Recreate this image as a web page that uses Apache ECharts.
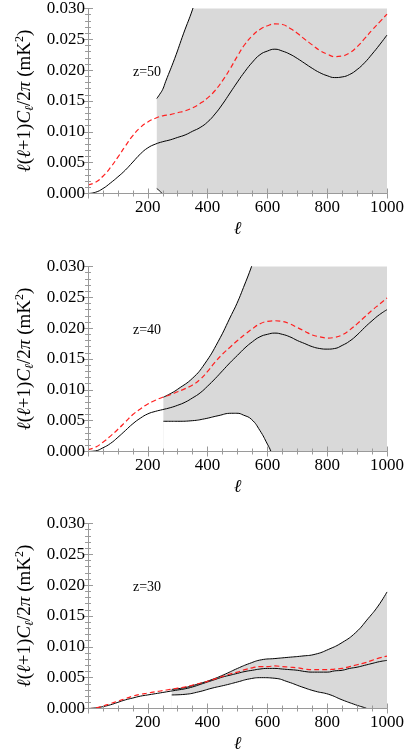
<!DOCTYPE html>
<html>
<head>
<meta charset="utf-8">
<script src="https://cdn.jsdelivr.net/npm/echarts@6/dist/echarts.min.js"></script>
<style>
  html, body { margin: 0; padding: 0; background: #fff; }
  #chart { width: 420px; height: 755px; }
</style>
</head>
<body>
<div id="chart"></div>
<script>
// multipole sampling for the fiducial curves (every 25)
const ell = [0, 25, 50, 75, 100, 125, 150, 175, 200, 225, 250, 275, 300, 325, 350, 375, 400, 425, 450, 475, 500,
  525, 550, 575, 600, 625, 650, 675, 700, 725, 750, 775, 800, 825, 850, 875, 900, 925, 950, 975, 1000];

// z=50
const fid50 = [0.0000, 0.0002, 0.0008, 0.0017, 0.0027, 0.0038, 0.0051, 0.0064, 0.0074, 0.0080, 0.0084, 0.0087, 0.0091, 0.0095, 0.0101, 0.0107, 0.0116, 0.0129, 0.0145, 0.0163, 0.0181,
  0.0198, 0.0213, 0.0225, 0.0231, 0.0234, 0.0231, 0.0226, 0.0219, 0.0211, 0.0203, 0.0196, 0.0191, 0.0188, 0.0189, 0.0193, 0.0201, 0.0212, 0.0226, 0.0241, 0.0257];
const red50 = [0.0014, 0.0018, 0.0028, 0.0042, 0.0059, 0.0077, 0.0094, 0.0107, 0.0116, 0.0122, 0.0126, 0.0128, 0.0131, 0.0134, 0.0139, 0.0146, 0.0155, 0.0167, 0.0183, 0.0202, 0.0223,
  0.0242, 0.0256, 0.0266, 0.0272, 0.0275, 0.0274, 0.0268, 0.0260, 0.0250, 0.0241, 0.0232, 0.0226, 0.0222, 0.0223, 0.0228, 0.0238, 0.0251, 0.0265, 0.0278, 0.0291];
const bandEll50 = [230, 240, 250, 260, 290, 320, 350, 380, 420, 500, 600, 700, 800, 900, 1000];
const hi50 = [0.0154, 0.0161, 0.0169, 0.0182, 0.0219, 0.0260, 0.0299, 0.0345, 0.0400, 0.0480, 0.0560, 0.0620, 0.0680, 0.0740, 0.0800];
const lo50 = [0.0008, 0.0004, -0.0001, -0.0006, -0.0020, -0.0040, -0.0060, -0.0080, -0.0100, -0.0150, -0.0200, -0.0250, -0.0300, -0.0350, -0.0400];

// z=40
const fid40 = [0.0000, 0.0001, 0.0006, 0.0013, 0.0023, 0.0034, 0.0045, 0.0054, 0.0061, 0.0065, 0.0068, 0.0071, 0.0075, 0.0080, 0.0087, 0.0095, 0.0106, 0.0118, 0.0131, 0.0144, 0.0156,
  0.0168, 0.0178, 0.0186, 0.0190, 0.0192, 0.0190, 0.0186, 0.0180, 0.0175, 0.0170, 0.0167, 0.0166, 0.0167, 0.0172, 0.0179, 0.0189, 0.0201, 0.0212, 0.0222, 0.0230];
const red40 = [0.0003, 0.0007, 0.0015, 0.0025, 0.0036, 0.0048, 0.0060, 0.0069, 0.0077, 0.0083, 0.0088, 0.0092, 0.0097, 0.0102, 0.0108, 0.0117, 0.0130, 0.0145, 0.0158, 0.0169, 0.0180,
  0.0190, 0.0199, 0.0207, 0.0211, 0.0212, 0.0211, 0.0207, 0.0201, 0.0195, 0.0189, 0.0186, 0.0184, 0.0185, 0.0189, 0.0197, 0.0207, 0.0218, 0.0229, 0.0239, 0.0249];
const bandEll40 = [252, 280, 300, 350, 390, 435, 480, 498, 520, 547, 575, 600, 612, 650, 700, 800, 900, 1000];
const hi40 = [0.0088, 0.0095, 0.0101, 0.0119, 0.0142, 0.0178, 0.0222, 0.0240, 0.0266, 0.0300, 0.0340, 0.0380, 0.0400, 0.0460, 0.0520, 0.0600, 0.0680, 0.0760];
const lo40 = [0.0049, 0.0049, 0.0049, 0.0050, 0.0053, 0.0058, 0.0062, 0.0062, 0.0059, 0.0052, 0.0034, 0.0012, 0.0000, -0.0050, -0.0120, -0.0200, -0.0300, -0.0400];

// z=30
const fid30 = [0.0000, 0.0001, 0.0003, 0.0006, 0.0010, 0.0014, 0.0017, 0.0020, 0.0022, 0.0024, 0.0026, 0.0028, 0.0030, 0.0032, 0.0035, 0.0039, 0.0043, 0.0047, 0.0051, 0.0054, 0.0057,
  0.0060, 0.0062, 0.0064, 0.0065, 0.0065, 0.0064, 0.0063, 0.0062, 0.0060, 0.0059, 0.0059, 0.0059, 0.0061, 0.0062, 0.0065, 0.0067, 0.0070, 0.0073, 0.0076, 0.0078];
const red30 = [0.0000, 0.0001, 0.0004, 0.0008, 0.0012, 0.0016, 0.0020, 0.0023, 0.0025, 0.0027, 0.0029, 0.0031, 0.0033, 0.0035, 0.0038, 0.0041, 0.0044, 0.0048, 0.0052, 0.0056, 0.0059,
  0.0063, 0.0066, 0.0068, 0.0068, 0.0069, 0.0068, 0.0067, 0.0066, 0.0064, 0.0063, 0.0063, 0.0063, 0.0064, 0.0065, 0.0068, 0.0071, 0.0074, 0.0078, 0.0082, 0.0085];
const bandEll30 = [280, 325, 370, 415, 460, 500, 540, 580, 625, 670, 715, 760, 805, 850, 895, 937, 970, 1000];
const hi30 = [0.0031, 0.0034, 0.0040, 0.0047, 0.0056, 0.0065, 0.0073, 0.0079, 0.0081, 0.0083, 0.0085, 0.0088, 0.0096, 0.0107, 0.0123, 0.0146, 0.0166, 0.0189];
const lo30 = [0.0022, 0.0023, 0.0027, 0.0033, 0.0038, 0.0043, 0.0048, 0.0050, 0.0049, 0.0043, 0.0035, 0.0028, 0.0023, 0.0014, 0.0006, -0.0001, -0.0010, -0.0020];

const zLabels = ['z=50', 'z=40', 'z=30'];
const xMin = 0, xMax = 1000, yMin = 0, yMax = 0.030;

const panels = [
  { fid: fid50, red: red50, bx: bandEll50, hi: hi50, lo: lo50, top: 8.5 },
  { fid: fid40, red: red40, bx: bandEll40, hi: hi40, lo: lo40, top: 266.5 },
  { fid: fid30, red: red30, bx: bandEll30, hi: hi30, lo: lo30, top: 523.5 }
];

const serif = '"Liberation Serif", "DejaVu Serif", serif';
const frameColor = '#9a9a9a';
const pairs = (xs, ys) => xs.map((x, i) => [x, ys[i]]);

const grids = [], xAxes = [], yAxes = [], series = [], graphics = [];

panels.forEach((p, i) => {
  grids.push({ left: 88, width: 299, top: p.top, height: 185 });

  const common = { z: 10, axisLine: { show: true, lineStyle: { color: frameColor, width: 1 } }, splitLine: { show: false } };
  // bottom axis with labels
  xAxes.push(Object.assign({}, common, {
    gridIndex: i, type: 'value', min: xMin, max: xMax, interval: 200, position: 'bottom',
    name: 'ℓ', nameLocation: 'middle', nameGap: 27,
    nameTextStyle: { fontFamily: serif, fontSize: 18, fontStyle: 'italic', color: '#000' },
    axisTick: { inside: true, length: 5, lineStyle: { color: frameColor } },
    minorTick: { show: true, splitNumber: 4, length: 3, lineStyle: { color: frameColor } },
    axisLabel: { showMinLabel: false, margin: 6, fontFamily: serif, fontSize: 17, color: '#000', formatter: v => String(v) }
  }));
  // top frame
  xAxes.push(Object.assign({}, common, {
    gridIndex: i, type: 'value', min: xMin, max: xMax, interval: 200, position: 'top',
    axisTick: { inside: true, length: 5, lineStyle: { color: frameColor } },
    minorTick: { show: true, splitNumber: 4, length: 3, lineStyle: { color: frameColor } },
    axisLabel: { show: false }
  }));
  // left axis with labels
  yAxes.push(Object.assign({}, common, {
    gridIndex: i, type: 'value', min: yMin, max: yMax, interval: 0.005, position: 'left',
    name: '{i|ℓ}({i|ℓ}+1){i|C}{s|ℓ}/2{i|π} (mK{p|2})',
    nameLocation: 'middle', nameGap: 20, nameRotate: 90,
    nameTextStyle: {
      fontFamily: serif, fontSize: 19, color: '#000', lineHeight: 22,
      rich: {
        i: { fontFamily: serif, fontSize: 19, fontStyle: 'italic', color: '#000' },
        s: { fontFamily: serif, fontSize: 12, fontStyle: 'italic', color: '#000', verticalAlign: 'bottom', lineHeight: 12 },
        p: { fontFamily: serif, fontSize: 12, color: '#000', verticalAlign: 'top', lineHeight: 12 }
      }
    },
    axisTick: { inside: true, length: 5, lineStyle: { color: frameColor } },
    minorTick: { show: true, splitNumber: 5, length: 3, lineStyle: { color: frameColor } },
    axisLabel: { margin: 3, fontFamily: serif, fontSize: 17, color: '#000', formatter: v => v.toFixed(3) }
  }));
  // right frame
  yAxes.push(Object.assign({}, common, {
    gridIndex: i, type: 'value', min: yMin, max: yMax, interval: 0.005, position: 'right',
    axisTick: { inside: true, length: 5, lineStyle: { color: frameColor } },
    minorTick: { show: true, splitNumber: 5, length: 3, lineStyle: { color: frameColor } },
    axisLabel: { show: false }
  }));

  const xi = i * 2, yi = i * 2;
  const base = p.lo.map(v => Math.max(v, 0));
  const lineCommon = { type: 'line', xAxisIndex: xi, yAxisIndex: yi, showSymbol: false, symbol: 'none', smooth: 0.5, silent: true };

  // gray band: fill under the upper bound, then blank out under the lower bound
  series.push(Object.assign({}, lineCommon, {
    data: pairs(p.bx, p.hi), lineStyle: { width: 0, opacity: 0 },
    areaStyle: { color: '#d9d9d9', opacity: 1 }, z: 1
  }));
  series.push(Object.assign({}, lineCommon, {
    data: pairs(p.bx, base), lineStyle: { width: 0, opacity: 0 },
    areaStyle: { color: '#ffffff', opacity: 1 }, z: 2
  }));
  series.push(Object.assign({}, lineCommon, { data: pairs(p.bx, p.hi), lineStyle: { color: '#000', width: 1 }, z: 3 }));
  series.push(Object.assign({}, lineCommon, { data: pairs(p.bx, p.lo), lineStyle: { color: '#000', width: 1 }, z: 3 }));
  series.push(Object.assign({}, lineCommon, { data: pairs(ell, p.fid), lineStyle: { color: '#000', width: 1 }, z: 4 }));
  series.push(Object.assign({}, lineCommon, { data: pairs(ell, p.red), lineStyle: { color: '#ff2020', width: 1.2, type: [5, 3] }, z: 5 }));

  graphics.push({
    type: 'text', left: 133, top: p.top + 57,
    style: { text: zLabels[i], font: '14px ' + serif, fill: '#000' }
  });
});

const chart = echarts.init(document.getElementById('chart'));
chart.setOption({
  animation: false,
  backgroundColor: '#fff',
  grid: grids,
  xAxis: xAxes,
  yAxis: yAxes,
  series: series,
  graphic: graphics
});
</script>
</body>
</html>
